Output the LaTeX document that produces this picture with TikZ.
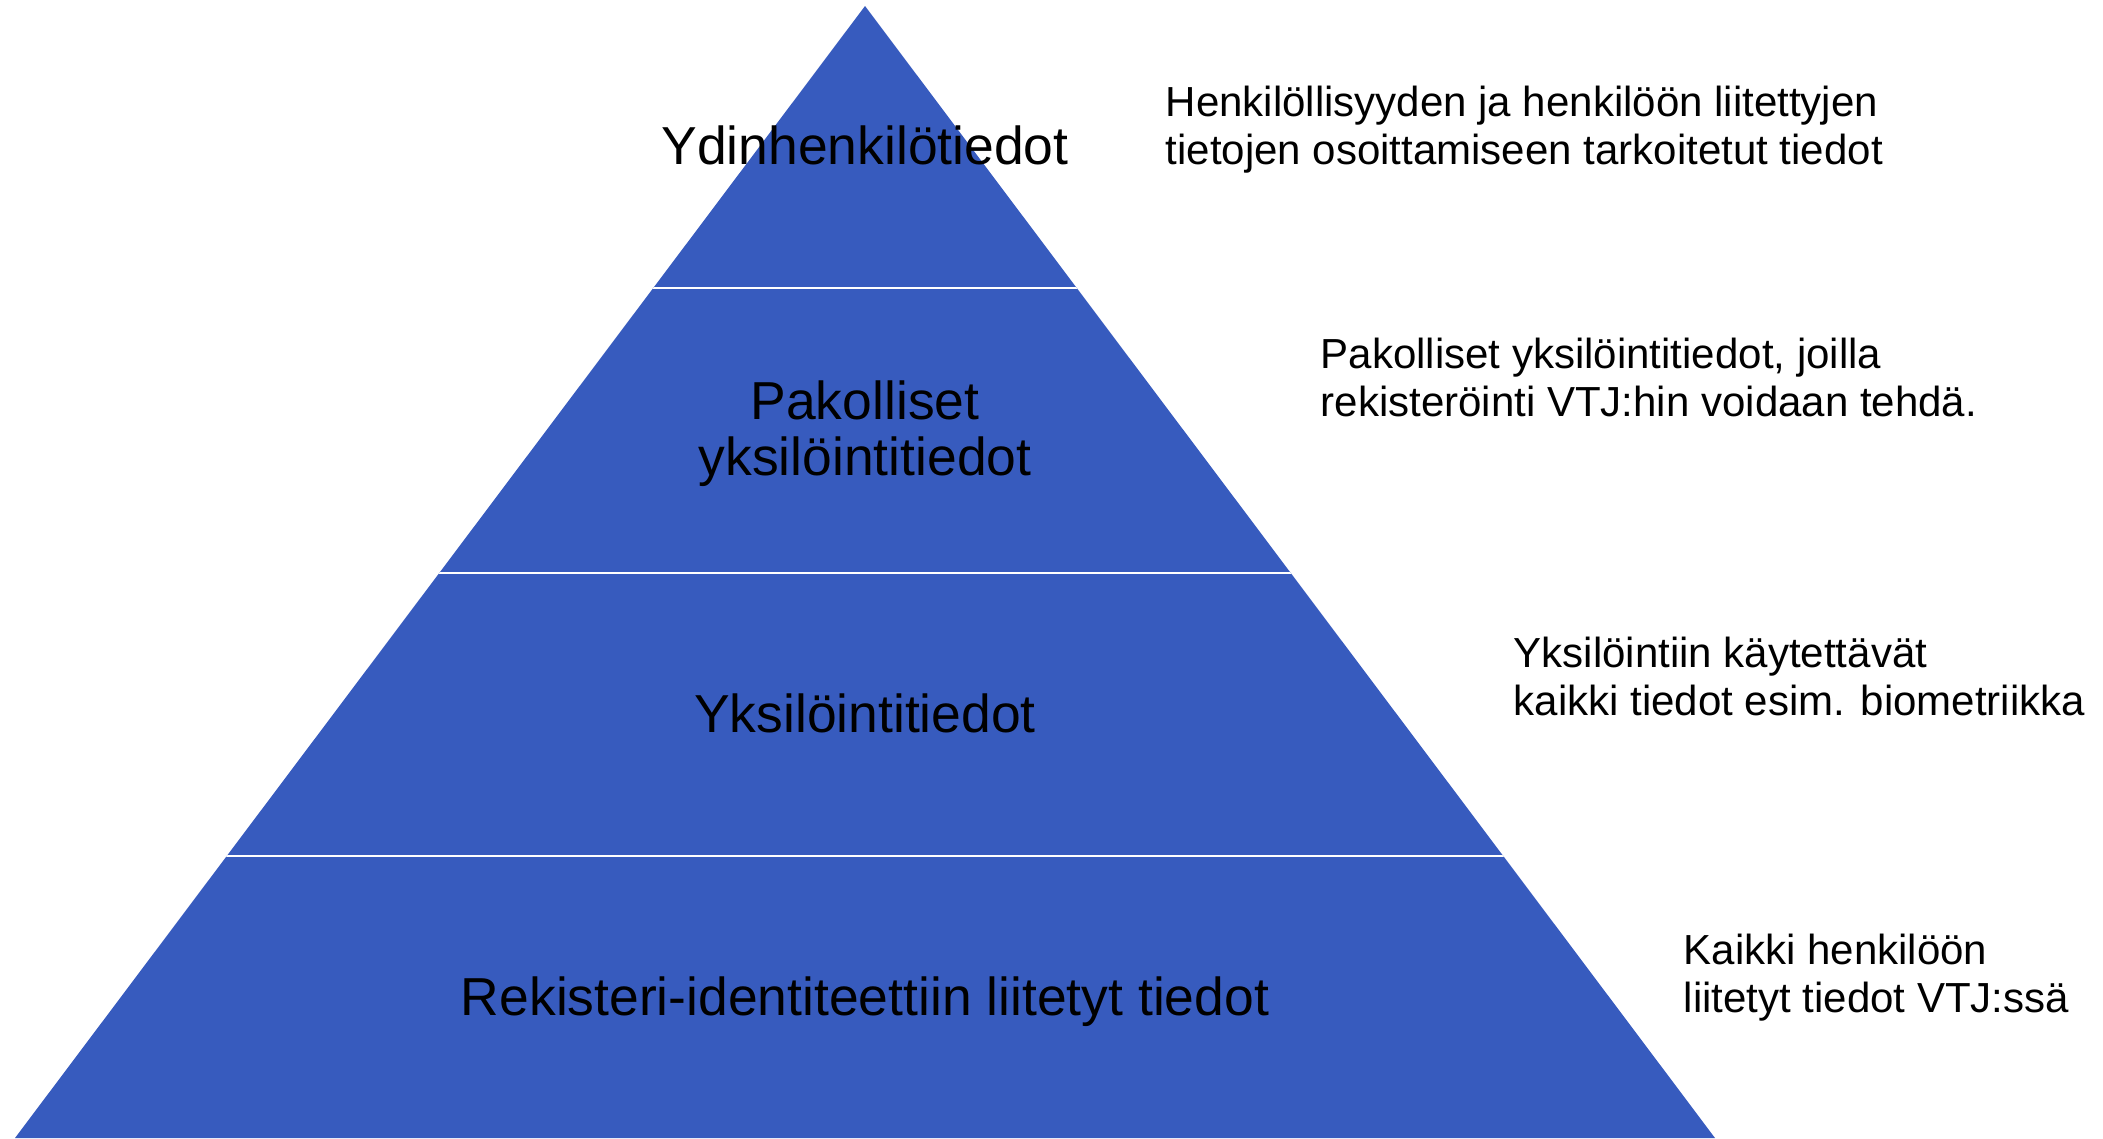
\documentclass[tikz,border=0pt]{standalone}
\usepackage{fontspec}
\setmainfont{Liberation Sans}
\definecolor{pyrblue}{HTML}{375BBE}

\begin{document}
\begin{tikzpicture}[x=0.01cm, y=-0.01cm,
  level/.style={font=\fontsize{15.2}{15.9}\selectfont, align=center, inner sep=0pt},
  note/.style={font=\fontsize{11.95}{13.66}\selectfont, align=left, anchor=west, inner sep=0pt}]

\useasboundingbox (0,0) rectangle (2103,1138);

% the pyramid
\fill[pyrblue] (15,1138)--(865,6)--(1715,1138)--cycle;
\begin{scope}
\clip (15,1138)--(865,6)--(1715,1138)--cycle;
\foreach \y in {288,573,856}
  \draw[white, line width=0.6pt] (0,\y)--(2103,\y);
\end{scope}

\node[level] (core) at (865,145) {Ydinhenkilötiedot};
\node[level] (mandatory) at (865,434) {Pakolliset\\yksilöintitiedot};
\node[level] (ident) at (865,713) {Yksilöintitiedot};
\node[level] (register) at (865,1002) {Rekisteri-identiteettiin liitetyt tiedot};

% notes on the right
\node[note] (corenote) at (1165,130) {Henkilöllisyyden  ja henkilöön  liitettyjen\\tietojen  osoittamiseen tarkoitetut  tiedot};
\node[note] (mandatorynote) at (1320,377) {Pakolliset  yksilöintitiedot,  joilla\\rekisteröinti  VTJ:hin voidaan tehdä.};
\node[note] (identnote) at (1513,676) {Yksilöintiin  käytettävät\\kaikki  tiedot esim.  biometriikka};
\node[note] (registernote) at (1683,978) {Kaikki henkilöön\\liitetyt tiedot VTJ:ssä};

\end{tikzpicture}
\end{document}
